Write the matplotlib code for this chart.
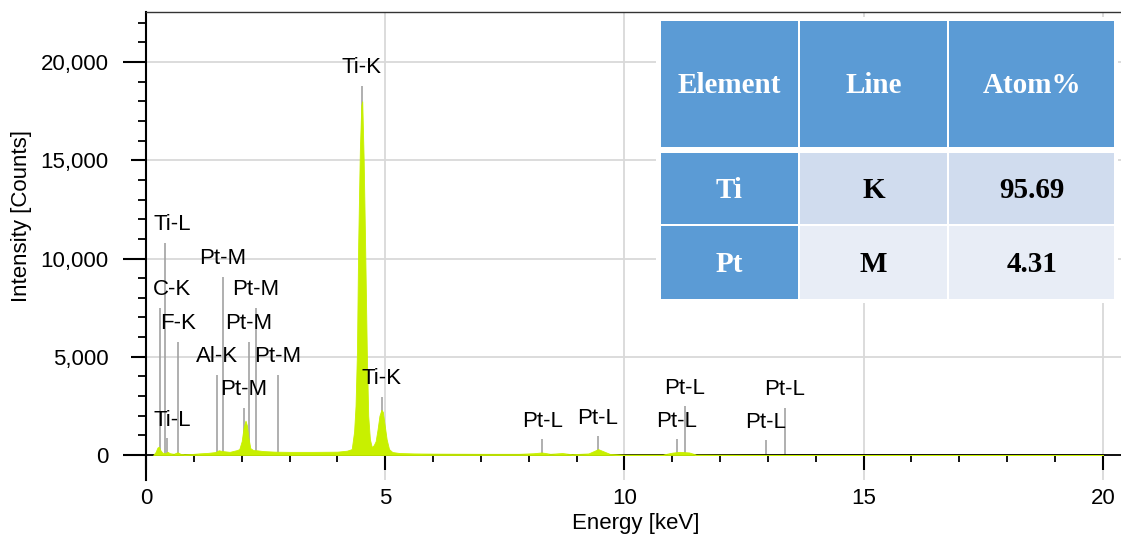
import numpy as np
import matplotlib.pyplot as plt
from matplotlib.patches import Rectangle
from matplotlib.ticker import FixedLocator, FuncFormatter

# EDS spectrum (keV, counts)
energy = [0.15, 0.20, 0.24, 0.27, 0.30, 0.34, 0.40, 0.45, 0.50, 0.58, 0.66, 0.72,
          0.80, 0.95, 1.10, 1.30, 1.45, 1.52, 1.60, 1.75, 1.90, 1.95, 2.00, 2.04,
          2.08, 2.11, 2.14, 2.18, 2.24, 2.32, 2.45, 2.70, 3.00, 3.50, 4.00, 4.20,
          4.30, 4.35, 4.38, 4.41, 4.435, 4.47, 4.50, 4.52, 4.55, 4.58, 4.615, 4.645,
          4.68, 4.72, 4.76, 4.80, 4.84, 4.88, 4.92, 4.95, 4.99, 5.03, 5.08, 5.15,
          5.30, 5.60, 6.00, 7.00, 7.80, 8.10, 8.27, 8.45, 8.70, 8.90, 9.25, 9.38,
          9.45, 9.55, 9.70, 10.0, 10.8, 11.00, 11.15, 11.35, 11.50, 12.5, 13.5,
          15.0, 20.0]
counts = [0, 150, 380, 420, 250, 120, 90, 160, 90, 60, 140, 60,
          40, 50, 80, 110, 150, 240, 200, 160, 250, 300, 700, 1400,
          1750, 1500, 900, 350, 250, 240, 200, 170, 160, 160, 170, 220,
          300, 1200, 2500, 5300, 10700, 15500, 17800, 18000, 15000, 10700, 5300, 2000,
          800, 400, 500, 700, 1300, 2000, 2300, 2200, 1500, 800, 300, 150,
          100, 80, 70, 60, 60, 90, 130, 60, 100, 40, 80, 220,
          300, 200, 50, 20, 20, 120, 160, 130, 20, 10, 5,
          0, 0]

# line markers: name, energy, marker height
marker_names = ["Ti-L", "C-K", "F-K", "Pt-M", "Pt-M", "Pt-M", "Al-K", "Pt-M", "Pt-M",
                "Ti-L", "Ti-K", "Ti-K", "Pt-L", "Pt-L", "Pt-L", "Pt-L", "Pt-L", "Pt-L"]
marker_energy = [0.40, 0.29, 0.66, 1.60, 2.30, 2.15, 1.49, 2.76, 2.04,
                 0.44, 4.51, 4.93, 8.28, 9.44, 11.09, 11.26, 12.95, 13.35]
marker_top = [10800, 7480, 5770, 9080, 7480, 5770, 4070, 4070, 2390,
              860, 18780, 2970, 810, 960, 800, 2490, 760, 2400]

# quantification table
table_header = ["Element", "Line", "Atom%"]
table_element = ["Ti", "Pt"]
table_line = ["K", "M"]
table_atom = [95.69, 4.31]

W, H = 1121, 540
plt.rcParams['font.family'] = ['Liberation Sans', 'DejaVu Sans']
FS = 16

fig = plt.figure(figsize=(W / 100, H / 100), dpi=100)
ax = fig.add_axes([146 / W, 60 / H, 975 / W, 467.7 / H])

ax.vlines(marker_energy, 0, marker_top, color='#a2a2a2', lw=1.2, zorder=2)
ax.fill_between(energy, counts, 0, color='#c8f000', lw=0.6, edgecolor='#c8f000', zorder=3)

texts = []
for name, e, top in zip(marker_names, marker_energy, marker_top):
    t = ax.annotate(name, (e, top), xytext=(0, 13), textcoords='offset points',
                    ha='center', va='center', fontsize=FS, zorder=6)
    texts.append(t)

ax.set_xlim(0, 20.38)
ax.set_ylim(-1272, 22530)

xmaj = [0, 5, 10, 15, 20]
ymaj = [0, 5000, 10000, 15000, 20000]
ax.xaxis.set_major_locator(FixedLocator(xmaj))
ax.xaxis.set_minor_locator(FixedLocator([v for v in range(1, 21) if v % 5]))
ax.yaxis.set_major_locator(FixedLocator(ymaj))
ax.yaxis.set_minor_locator(FixedLocator([v for v in range(1000, 23000, 1000) if v % 5000]))
ax.yaxis.set_major_formatter(FuncFormatter(lambda v, p: f"{v:,.0f}"))

ax.tick_params(axis='both', which='major', direction='out', length=10.8, width=1.5,
               labelsize=FS, color='black')
ax.tick_params(axis='x', which='major', pad=13)
ax.tick_params(axis='y', which='major', pad=16)
ax.tick_params(axis='x', which='minor', direction='out', length=5, width=1.3)
ax.tick_params(axis='y', which='minor', direction='out', length=5.8, width=1.3)

for t, v in zip(ax.xaxis.get_major_ticks(), xmaj):
    if v % 10 == 0:
        t.tick1line.set_markersize(16.6)
for t, v in zip(ax.yaxis.get_major_ticks(), ymaj):
    if v % 10000 == 0:
        t.tick1line.set_markersize(16.6)

ax.spines['bottom'].set_position(('data', 0))
ax.spines['bottom'].set_linewidth(1.3)
ax.spines['left'].set_linewidth(1.5)
ax.spines['right'].set_visible(False)
ax.spines['top'].set_linewidth(1.0)
ax.spines['top'].set_color('#333333')

ax.grid(True, which='major', color='#d9d9d9', lw=1.3)
ax.set_axisbelow(True)

ax.set_xlabel("Energy [keV]", fontsize=FS)
ax.set_ylabel("Intensity [Counts]", fontsize=FS)
ax.xaxis.set_label_coords(0.502, -0.07)
ax.yaxis.set_label_coords(-0.117, 0.565)

# keep the labels near the y axis inside the plot
fig.canvas.draw()
left_px = ax.get_window_extent().x0 + 7
for t in texts:
    bb = t.get_window_extent()
    if bb.x0 < left_px:
        dx = (left_px - bb.x0) * 72 / fig.dpi
        t.xyann = (t.xyann[0] + dx, t.xyann[1])

# table, laid out in pixels of the figure
col_edges = [(660.7, 797.7), (800.0, 947.3), (949.3, 1114.0)]
row_edges = [(20.7, 146.7), (153.3, 224.0), (226.0, 299.0)]
blue = '#5b9bd5'
light = ['#d0dcee', '#e8edf6']


def px_rect(x0, x1, y0, y1, color):
    return Rectangle((x0 / W, 1 - y1 / H), (x1 - x0) / W, (y1 - y0) / H,
                     transform=fig.transFigure, facecolor=color, edgecolor='none', zorder=8)


fig.add_artist(px_rect(656, 1118, 17, 303, 'white'))
cells = [table_header] + [[el, ln, f"{at:.2f}"] for el, ln, at in
                          zip(table_element, table_line, table_atom)]
for r, (y0, y1) in enumerate(row_edges):
    for c, (x0, x1) in enumerate(col_edges):
        is_blue = r == 0 or c == 0
        fig.add_artist(px_rect(x0, x1, y0, y1, blue if is_blue else light[r - 1]))
        fig.text((x0 + x1) / 2 / W, 1 - ((y0 + y1) / 2 + 2) / H, cells[r][c],
                 ha='center', va='center', fontsize=21, fontweight='bold',
                 family=['Liberation Serif', 'DejaVu Serif'],
                 color='white' if is_blue else 'black', zorder=9)

fig.savefig('out.png', dpi=100)
